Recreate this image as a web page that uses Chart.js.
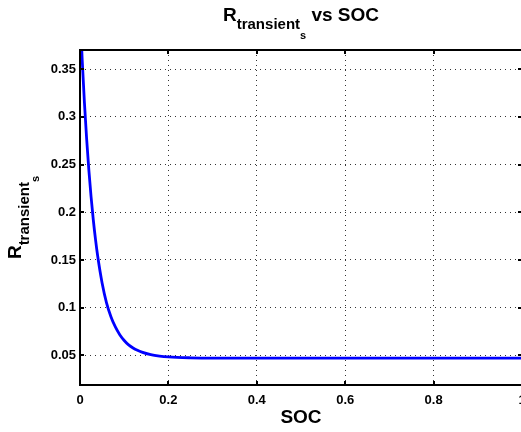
<!DOCTYPE html>
<html>
<head>
<meta charset="utf-8">
<script src="https://cdn.jsdelivr.net/npm/chart.js@4"></script>
<style>
  html, body { margin: 0; padding: 0; background: #fff; overflow: hidden; }
  #wrap { width: 540px; height: 432px; }
</style>
</head>
<body>
<div id="wrap"><canvas id="chart" width="540" height="432"></canvas></div>
<script>
// values
const soc = [0, 0.005, 0.01, 0.015, 0.02, 0.025, 0.03, 0.035, 0.04, 0.05, 0.06, 0.07, 0.08, 0.09, 0.1,
             0.11, 0.12, 0.13, 0.14, 0.16, 0.18, 0.2, 0.25, 0.3, 0.4, 0.5, 0.6, 0.7, 0.8, 0.9, 1];
const rTransient = [0.411, 0.3595, 0.315, 0.277, 0.2445, 0.2165, 0.1924, 0.1718, 0.1541, 0.1259, 0.1051, 0.0906, 0.0798, 0.0717, 0.0656,
                    0.061, 0.0578, 0.0553, 0.0534, 0.0508, 0.0493, 0.0484, 0.0475, 0.0472, 0.0472, 0.0472, 0.0472, 0.0472, 0.0472, 0.0472, 0.0472];
const xTicks = [0, 0.2, 0.4, 0.6, 0.8, 1];
const yTicks = [0.05, 0.1, 0.15, 0.2, 0.25, 0.3, 0.35];
const xRange = [0, 1];
const yRange = [0.019, 0.37];

const FONT = "'Liberation Sans', Arial, Helvetica, sans-serif";

// draws a string made of parts with their own size and baseline shift
function drawParts(ctx, parts, cx, baseY) {
  let total = 0;
  parts.forEach(p => {
    ctx.font = 'bold ' + p.size + 'px ' + FONT;
    p.w = ctx.measureText(p.text).width;
    total += p.w;
  });
  let x = cx - total / 2;
  ctx.textAlign = 'left';
  ctx.textBaseline = 'alphabetic';
  parts.forEach(p => {
    ctx.font = 'bold ' + p.size + 'px ' + FONT;
    ctx.fillText(p.text, x, baseY + p.dy);
    x += p.w;
  });
}

const matlabAxes = {
  id: 'matlabAxes',
  afterDraw(chart) {
    const ctx = chart.ctx;
    const a = chart.chartArea;
    const xs = chart.scales.x, ys = chart.scales.y;
    ctx.save();
    ctx.strokeStyle = '#000';
    ctx.lineWidth = 2;
    ctx.strokeRect(a.left, a.top, a.right - a.left, a.bottom - a.top);
    ctx.beginPath();
    xTicks.forEach(v => {
      const px = Math.round(xs.getPixelForValue(v));
      ctx.moveTo(px, a.bottom); ctx.lineTo(px, a.bottom - 4);
      ctx.moveTo(px, a.top); ctx.lineTo(px, a.top + 4);
    });
    yTicks.forEach(v => {
      const py = Math.round(ys.getPixelForValue(v));
      ctx.moveTo(a.left, py); ctx.lineTo(a.left + 4, py);
      ctx.moveTo(a.right, py); ctx.lineTo(a.right - 4, py);
    });
    ctx.stroke();

    ctx.fillStyle = '#000';
    const cx = (a.left + a.right) / 2;
    drawParts(ctx, [
      {text: 'R', size: 19, dy: 0},
      {text: 'transient', size: 15, dy: 8.6},
      {text: 's', size: 11, dy: 18.3},
      {text: ' vs SOC', size: 19, dy: 0}
    ], cx, 20.7);

    drawParts(ctx, [{text: 'SOC', size: 19, dy: 0}], cx, 423);

    ctx.translate(20.5, (a.top + a.bottom) / 2);
    ctx.rotate(-Math.PI / 2);
    drawParts(ctx, [
      {text: 'R', size: 19, dy: 0},
      {text: 'transient', size: 15, dy: 8.6},
      {text: 's', size: 11, dy: 18.3}
    ], 0, 0);
    ctx.restore();
  }
};

new Chart(document.getElementById('chart'), {
  type: 'line',
  data: {
    datasets: [{
      data: soc.map((s, i) => ({x: s, y: rTransient[i]})),
      borderColor: '#0000ff',
      borderWidth: 2.8,
      pointRadius: 0,
      cubicInterpolationMode: 'monotone',
      fill: false
    }]
  },
  options: {
    responsive: false,
    animation: false,
    layout: { padding: { top: 50, right: 18, left: 0, bottom: 0 } },
    plugins: { legend: { display: false }, title: { display: false }, tooltip: { enabled: false } },
    scales: {
      x: {
        type: 'linear',
        min: xRange[0],
        max: xRange[1],
        afterBuildTicks: s => { s.ticks = xTicks.map(v => ({value: v})); },
        afterFit: s => { s.height = 47; },
        grid: { color: '#333', lineWidth: 1, drawTicks: false },
        border: { display: false, dash: [1, 4] },
        ticks: {
          padding: 8,
          color: '#000',
          font: { family: FONT, size: 13, weight: 'bold' },
          callback: v => String(v)
        }
      },
      y: {
        type: 'linear',
        min: yRange[0],
        max: yRange[1],
        afterBuildTicks: s => { s.ticks = yTicks.map(v => ({value: v})); },
        afterFit: s => { s.width = 80; },
        grid: { color: '#333', lineWidth: 1, drawTicks: false },
        border: { display: false, dash: [1, 4] },
        ticks: {
          padding: 4,
          color: '#000',
          font: { family: FONT, size: 13, weight: 'bold' },
          callback: v => String(v)
        }
      }
    }
  },
  plugins: [matlabAxes]
});
</script>
</body>
</html>
